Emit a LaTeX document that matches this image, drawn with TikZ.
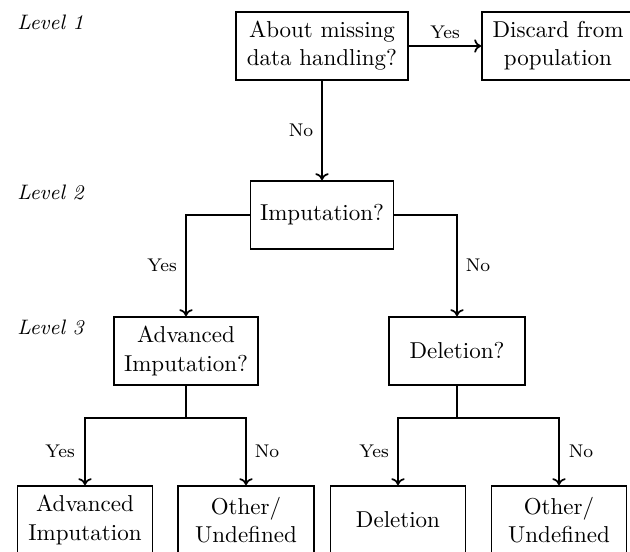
\documentclass[tikz,border=0pt]{standalone}
\usetikzlibrary{arrows.meta}
\newcommand\pxu{0.4348pt}
\begin{document}
\begin{tikzpicture}[x=0.4348pt,y=-0.4348pt,
  box/.style={draw, line width=0.75pt, inner sep=0pt, align=center,
    minimum height=68*\pxu, font=\fontsize{10}{12.2}\selectfont},
  lbl/.style={inner sep=0pt, font=\fontsize{8}{9.6}\selectfont},
  lvl/.style={inner sep=0pt, anchor=west, font=\fontsize{9.1}{11}\selectfont\itshape},
  arr/.style={line width=0.75pt, -{To[length=3pt,width=5.8pt]}},
  ln/.style={line width=0.75pt}]
\useasboundingbox (0,0) rectangle (630,551);
\clip (0,0) rectangle (630,551);
% level labels
\node[lvl] (L1) at (17,22) {Level 1};
\node[lvl] (L2) at (17,192) {Level 2};
\node[lvl] (L3) at (17,327) {Level 3};
% boxes
\node[box, minimum width=172*\pxu] (A) at (322,46) {About missing\\data handling?};
\node[box, minimum width=152*\pxu] (B) at (558,46) {Discard from\\population};
\node[box, minimum width=143*\pxu] (C) at (322,215) {Imputation?};
\node[box, minimum width=144*\pxu] (D) at (186,351) {Advanced\\Imputation?};
\node[box, minimum width=136*\pxu] (E) at (457,351) {Deletion?};
\node[box, minimum width=135*\pxu] (F) at (85,520) {Advanced\\Imputation};
\node[box, minimum width=136*\pxu] (G) at (246,520) {Other/\\Undefined};
\node[box, minimum width=135*\pxu] (H) at (398,520) {Deletion};
\node[box, minimum width=135*\pxu] (I) at (559,520) {Other/\\Undefined};
% junctions
\coordinate (Dj) at (186,418);
\coordinate (Ej) at (457,418);
% connectors
\draw[arr] (A.east) -- node[lbl, yshift=14*\pxu] {Yes} (B.west);
\draw[arr] (A.south) -- node[lbl, xshift=-21*\pxu] {No} (C.north);
\draw[arr] (C.west) -| node[pos=0.75, lbl, xshift=-24*\pxu] {Yes} (D.north);
\draw[arr] (C.east) -| node[pos=0.75, lbl, xshift=21*\pxu] {No} (E.north);
\draw[ln] (D.south) -- (Dj);
\draw[arr] (Dj) -| node[pos=0.75, lbl, xshift=-25*\pxu] {Yes} (F.north);
\draw[arr] (Dj) -| node[pos=0.75, lbl, xshift=21*\pxu] {No} (G.north);
\draw[ln] (E.south) -- (Ej);
\draw[arr] (Ej) -| node[pos=0.75, lbl, xshift=-24*\pxu] {Yes} (H.north);
\draw[arr] (Ej) -| node[pos=0.75, lbl, xshift=22*\pxu] {No} (I.north);
\end{tikzpicture}
\end{document}
